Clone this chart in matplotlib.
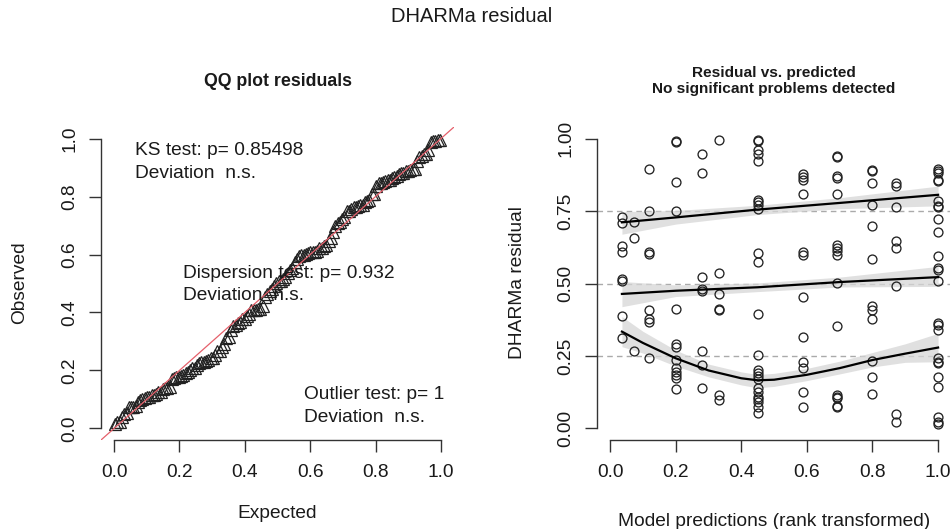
import numpy as np
import matplotlib
matplotlib.use("Agg")
import matplotlib.pyplot as plt

plt.rcParams['font.family'] = ['Liberation Sans', 'DejaVu Sans']

# ---- data: DHARMa scaled residuals grouped by rank-transformed prediction ----
pred_rank = [0.036, 0.074, 0.119, 0.201, 0.279, 0.333, 0.450, 0.588, 0.693, 0.799, 0.873, 1.0]
r01 = [0.729, 0.709, 0.631, 0.607, 0.516, 0.508, 0.388, 0.313]
r02 = [0.712, 0.657, 0.267]
r03 = [0.895, 0.749, 0.607, 0.602, 0.407, 0.377, 0.366, 0.242]
r04 = [0.993, 0.989, 0.851, 0.749, 0.412, 0.291, 0.280, 0.236, 0.207, 0.195, 0.185, 0.175, 0.135]
r05 = [0.947, 0.880, 0.524, 0.480, 0.475, 0.268, 0.219, 0.141]
r06 = [0.994, 0.536, 0.464, 0.411, 0.407, 0.115, 0.098]
r07 = [0.994, 0.990, 0.960, 0.947, 0.924, 0.789, 0.780, 0.770, 0.758, 0.605, 0.574, 0.395,
       0.253, 0.200, 0.190, 0.180, 0.170, 0.138, 0.125, 0.110, 0.100, 0.090, 0.075, 0.054]
r08 = [0.878, 0.868, 0.858, 0.810, 0.607, 0.599, 0.455, 0.315, 0.230, 0.207, 0.124, 0.075]
r09 = [0.939, 0.935, 0.870, 0.864, 0.809, 0.634, 0.622, 0.611, 0.599, 0.501, 0.355, 0.115,
       0.109, 0.104, 0.078, 0.075]
r10 = [0.891, 0.887, 0.847, 0.772, 0.700, 0.584, 0.421, 0.409, 0.377, 0.233, 0.179, 0.119]
r11 = [0.847, 0.838, 0.765, 0.647, 0.624, 0.493, 0.050, 0.023]
r12 = [0.895, 0.889, 0.881, 0.858, 0.853, 0.783, 0.768, 0.763, 0.722, 0.677, 0.596, 0.553,
       0.547, 0.509, 0.363, 0.357, 0.338, 0.242, 0.230, 0.225, 0.179, 0.142, 0.038, 0.023, 0.015]
resid_groups = [r01, r02, r03, r04, r05, r06, r07, r08, r09, r10, r11, r12]

# quantile regression fits (0.75, 0.5, 0.25) with confidence bands
q75_x = [0.036, 0.2, 0.45, 0.7, 1.0]
q75_y = [0.711, 0.728, 0.755, 0.778, 0.806]
q75_lo = [0.670, 0.705, 0.738, 0.758, 0.768]
q75_hi = [0.748, 0.752, 0.770, 0.796, 0.836]

q50_x = [0.036, 0.2, 0.45, 0.7, 1.0]
q50_y = [0.464, 0.475, 0.487, 0.505, 0.522]
q50_lo = [0.420, 0.455, 0.472, 0.488, 0.490]
q50_hi = [0.507, 0.495, 0.502, 0.522, 0.559]

q25_x = [0.036, 0.1, 0.2, 0.3, 0.4, 0.45, 0.5, 0.6, 0.7, 0.8, 0.9, 1.0]
q25_y = [0.334, 0.295, 0.242, 0.200, 0.173, 0.166, 0.168, 0.185, 0.208, 0.236, 0.258, 0.279]
q25_lo = [0.282, 0.260, 0.215, 0.178, 0.150, 0.140, 0.145, 0.165, 0.188, 0.212, 0.228, 0.230]
q25_hi = [0.386, 0.335, 0.270, 0.222, 0.195, 0.186, 0.190, 0.207, 0.232, 0.262, 0.292, 0.328]

qq_ticks = [0.0, 0.2, 0.4, 0.6, 0.8, 1.0]
qq_ticklabels = ["0.0", "0.2", "0.4", "0.6", "0.8", "1.0"]
rp_yticks = [0.0, 0.25, 0.5, 0.75, 1.0]
rp_yticklabels = ["0.00", "0.25", "0.50", "0.75", "1.00"]

ks_lines = ["KS test: p= 0.85498", "Deviation  n.s."]
disp_lines = ["Dispersion test: p= 0.932", "Deviation  n.s."]
out_lines = ["Outlier test: p= 1", "Deviation  n.s."]

# ---- figure ----
W, H = 950, 529
fig = plt.figure(figsize=(W / 100, H / 100), dpi=100)

def px_axes(x0, x1, y0, y1):
    return fig.add_axes([x0 / W, 1 - y1 / H, (x1 - x0) / W, (y1 - y0) / H])

axc = '#333333'
txtc = '#1a1a1a'
FS = 13.8

def r_style(ax, yticks, yticklabels):
    ax.set_xlim(-0.04, 1.04)
    ax.set_ylim(-0.04, 1.04)
    for s in ['top', 'right']:
        ax.spines[s].set_visible(False)
    for s in ['left', 'bottom']:
        ax.spines[s].set_color(axc)
        ax.spines[s].set_linewidth(1.0)
    ax.spines['bottom'].set_bounds(0, 1)
    ax.spines['left'].set_bounds(0, 1)
    ax.set_xticks(qq_ticks)
    ax.set_xticklabels(qq_ticklabels)
    ax.set_yticks(yticks)
    ax.set_yticklabels(yticklabels, rotation=90, va='center')
    ax.tick_params(axis='both', length=8.5, width=1.0, color=axc, labelsize=FS, labelcolor=txtc)
    ax.tick_params(axis='x', pad=9)
    ax.tick_params(axis='y', pad=8)
    ax.patch.set_alpha(0)

# Left: QQ plot
ax1 = px_axes(101, 454, 127, 440)
r_style(ax1, qq_ticks, qq_ticklabels)
observed = np.sort(np.concatenate([np.array(g) for g in resid_groups]))
n = len(observed)
expected = (np.arange(1, n + 1) - 0.5) / n
ax1.plot([-0.1, 1.1], [-0.1, 1.1], color='#e5606b', lw=0.9, zorder=3)
ax1.plot(expected, observed, linestyle='none', marker='^', markersize=8.5,
         markerfacecolor='none', markeredgecolor='#222222', markeredgewidth=0.9, zorder=2)
for (x, y), s in zip([(0.064, 0.96), (0.064, 0.878)], ks_lines):
    ax1.text(x, y, s, fontsize=FS, color=txtc, va='center', ha='left')
for (x, y), s in zip([(0.212, 0.535), (0.212, 0.457)], disp_lines):
    ax1.text(x, y, s, fontsize=FS, color=txtc, va='center', ha='left')
for (x, y), s in zip([(0.581, 0.117), (0.581, 0.036)], out_lines):
    ax1.text(x, y, s, fontsize=FS, color=txtc, va='center', ha='left')

# Right: residual vs predicted
ax2 = px_axes(597, 951.2, 127, 440)
r_style(ax2, rp_yticks, rp_yticklabels)
for h in [0.25, 0.5, 0.75]:
    ax2.axhline(h, color='#aaaaaa', lw=1.0, ls=(0, (4, 3)), zorder=1)
for xs, lo, hi in [(q75_x, q75_lo, q75_hi), (q50_x, q50_lo, q50_hi), (q25_x, q25_lo, q25_hi)]:
    ax2.fill_between(xs, lo, hi, color='#d6d6d6', alpha=0.75, lw=0, zorder=2)
for xv, g in zip(pred_rank, resid_groups):
    ax2.plot([xv] * len(g), g, linestyle='none', marker='o', markersize=6.4,
             markerfacecolor='none', markeredgecolor='#222222', markeredgewidth=0.95, zorder=3)
for xs, ys in [(q75_x, q75_y), (q50_x, q50_y), (q25_x, q25_y)]:
    ax2.plot(xs, ys, color='black', lw=1.6, zorder=4)

# titles and labels
fig.text(472 / W, 1 - 16 / H, "DHARMa residual", ha='center', va='center', fontsize=14.5, color=txtc)
fig.text(277.5 / W, 1 - 81 / H, "QQ plot residuals", ha='center', va='center',
         fontsize=12.8, fontweight='bold', color=txtc)
fig.text(774 / W, 1 - 81 / H, "Residual vs. predicted\nNo significant problems detected",
         ha='center', va='center', fontsize=11.1, fontweight='bold', color=txtc, linespacing=1.2)
fig.text(277.5 / W, 1 - 514 / H, "Expected", ha='center', va='center', fontsize=FS, color=txtc)
fig.text(774 / W, 1 - 521 / H, "Model predictions (rank transformed)", ha='center', va='center',
         fontsize=FS, color=txtc)
fig.text(20 / W, 1 - 283 / H, "Observed", ha='center', va='center', rotation=90,
         fontsize=FS, color=txtc)
fig.text(517 / W, 1 - 283 / H, "DHARMa residual", ha='center', va='center', rotation=90,
         fontsize=FS, color=txtc)

fig.savefig("out.png", dpi=100)
